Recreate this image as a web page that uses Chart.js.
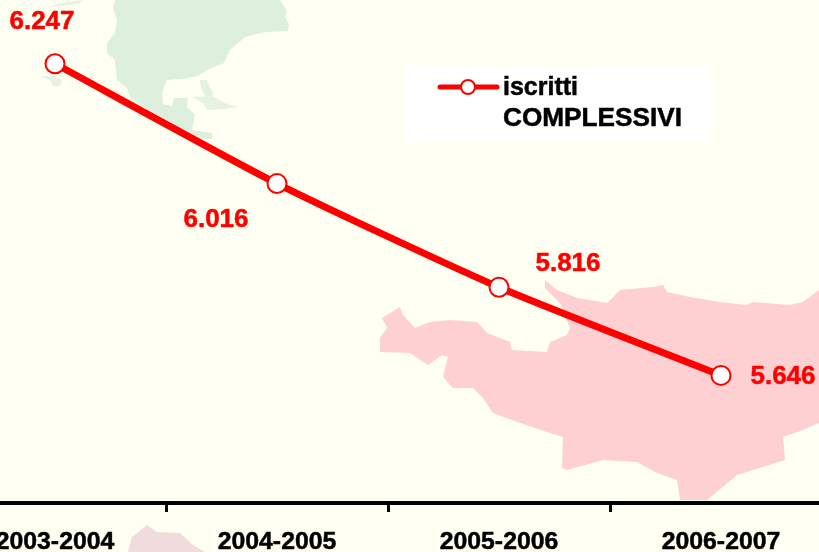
<!DOCTYPE html>
<html>
<head>
<meta charset="utf-8">
<script src="https://cdn.jsdelivr.net/npm/chart.js@4/dist/chart.umd.min.js"></script>
<style>
html,body{margin:0;padding:0;background:#FFFFF2;overflow:hidden;width:819px;height:552px}
#wrap{position:absolute;left:-56px;top:0;width:888px;height:552px}
canvas{display:block}
</style>
</head>
<body>
<div id="wrap"><canvas id="c" width="888" height="552"></canvas></div>
<script>
const categories = ['2003-2004','2004-2005','2005-2006','2006-2007'];
const iscritti = [6247,6016,5816,5646];
const legendLines = ['iscritti','COMPLESSIVI'];

const FONT = '"Liberation Sans", Arial, sans-serif';
const RED = '#FF0000';
const labelOffsets = [[-13,-42],[-61,36],[69,-23],[62,1]];

// Decorative background map (not data)
const mapShapes = [
 {c:'#DDEFDD',p:[[115,0],[280,0],[287,11],[285,17],[289,24],[288,31],[266,32],[256,34],[245,37],[230,50],[224,63],[207,70],[198,76],[182,79],[167,80],[162,92],[163,104],[172,106],[174,98],[188,98],[187,107],[195,115],[192,130],[212,133],[212,139],[192,139],[180,130],[157,115],[138,103],[130,97],[127,88],[117,80],[115,60],[107,53],[107,43],[115,33],[117,20],[113,8]]},
 {c:'#E6F3E4',p:[[47,7],[62,3],[83,0],[78,4],[60,6]]},
 {c:'#E6F3E4',p:[[41,76],[55,76],[62,80],[60,86],[53,86],[50,80]]},
 {c:'#E2F1E0',p:[[200,80],[207,80],[210,88],[214,95],[206,98],[201,88]]},
 {c:'#E6F3E4',p:[[192,97],[212,96],[225,103],[238,107],[225,109],[207,110],[203,103]]},
 {c:'#FFD0D2',p:[[545,280],[557,290],[577,298],[607,303],[620,290],[653,287],[663,285],[667,292],[690,297],[720,302],[747,305],[753,302],[790,305],[803,302],[819,290],[819,423],[803,430],[783,437],[785,460],[763,467],[737,475],[707,500],[680,500],[677,480],[657,473],[637,462],[603,460],[567,470],[562,468],[563,437],[550,433],[520,423],[493,413],[483,398],[473,388],[453,388],[443,377],[448,357],[442,355],[428,365],[410,353],[380,352],[380,338],[387,328],[382,318],[400,307],[403,315],[415,328],[430,322],[450,320],[477,322],[487,333],[510,342],[512,350],[547,352],[550,342],[567,335],[570,328],[560,303],[545,288]]},
 {c:'#F0DCDC',p:[[128,552],[132,537],[147,525],[157,532],[180,533],[193,545],[205,552]]}
];

const backdrop = {
  id:'backdrop',
  beforeDraw(chart){
    const g = chart.ctx;
    g.save();
    g.fillStyle = '#FFFFF2';
    g.fillRect(0,0,chart.width,chart.height);
    g.translate(56,0);
    mapShapes.forEach(s=>{
      g.fillStyle = s.c;
      g.beginPath();
      s.p.forEach((pt,i)=> i ? g.lineTo(pt[0],pt[1]) : g.moveTo(pt[0],pt[1]));
      g.closePath();
      g.fill();
    });
    g.restore();
  }
};

const overlays = {
  id:'overlays',
  afterDatasetsDraw(chart){
    const g = chart.ctx;
    const meta = chart.getDatasetMeta(0);
    g.save();
    // value labels
    g.font = 'bold 26px '+FONT;
    g.fillStyle = RED;
    g.strokeStyle = RED;
    g.lineWidth = 0.5;
    g.textAlign = 'center';
    g.textBaseline = 'middle';
    meta.data.forEach((el,i)=>{
      const txt = (iscritti[i]/1000).toFixed(3);
      const x = el.x+labelOffsets[i][0], y = el.y+labelOffsets[i][1];
      g.fillText(txt, x, y);
      g.strokeText(txt, x, y);
    });
    // legend
    g.translate(56,0);
    g.fillStyle = '#FFFFFF';
    g.fillRect(405,66,306,75);
    g.strokeStyle = RED;
    g.lineWidth = 5;
    g.lineCap = 'round';
    g.beginPath(); g.moveTo(440,87); g.lineTo(497,87); g.stroke();
    g.beginPath(); g.arc(468,87,7,0,Math.PI*2);
    g.fillStyle = '#FFFFFF'; g.fill();
    g.lineWidth = 2; g.stroke();
    g.fillStyle = '#000000';
    g.strokeStyle = '#000000';
    g.lineWidth = 0.5;
    g.textAlign = 'left';
    g.font = 'bold 25px '+FONT;
    g.fillText(legendLines[0],503,88);
    g.strokeText(legendLines[0],503,88);
    g.font = 'bold 26.2px '+FONT;
    g.fillText(legendLines[1],503,119);
    g.strokeText(legendLines[1],503,119);
    g.restore();
  }
};

new Chart(document.getElementById('c'),{
  type:'line',
  data:{
    labels:categories,
    datasets:[{
      label:legendLines.join(' '),
      data:iscritti,
      borderColor:RED,
      borderWidth:7,
      tension:0.2,
      pointRadius:9.5,
      pointBorderWidth:2,
      pointBackgroundColor:'#FFFFFF',
      pointBorderColor:RED,
      clip:false
    }]
  },
  options:{
    responsive:false,
    animation:false,
    layout:{padding:0,autoPadding:false},
    plugins:{legend:{display:false},title:{display:false},tooltip:{enabled:false}},
    scales:{
      y:{display:false,min:5400,max:6370},
      x:{
        offset:true,
        afterFit(s){s.height=49;s.paddingLeft=0;s.paddingRight=0;},
        border:{color:'#000000',width:4},
        grid:{offset:true,drawOnChartArea:false,drawTicks:true,tickLength:9,tickWidth:3,tickColor:'#000000'},
        ticks:{color:'#000000',font:{family:FONT,size:24.8,weight:'bold'},textStrokeColor:'#000000',textStrokeWidth:0.5,maxRotation:0,autoSkip:false,padding:15}
      }
    }
  },
  plugins:[backdrop,overlays]
});
</script>
</body>
</html>
